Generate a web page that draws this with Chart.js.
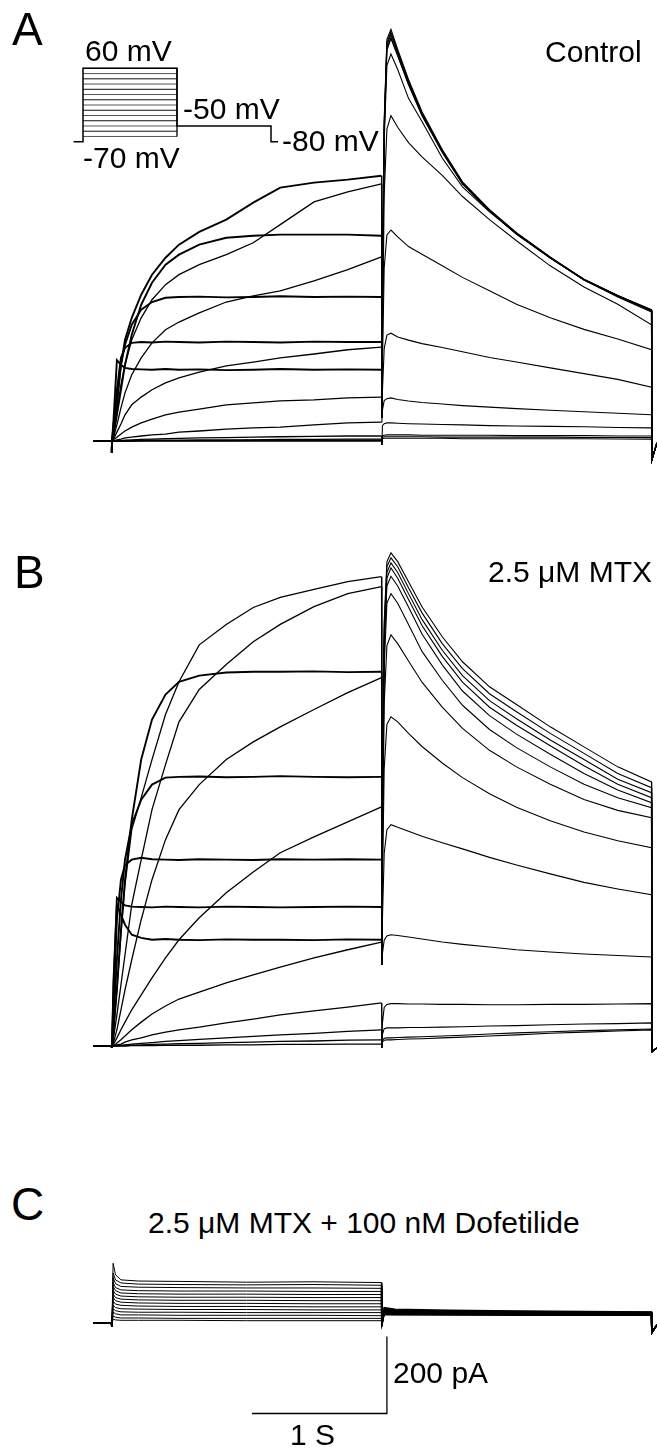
<!DOCTYPE html>
<html>
<head>
<meta charset="utf-8">
<title>hERG tail currents</title>
<script src="https://cdn.jsdelivr.net/npm/chart.js@4.4.0/dist/chart.umd.min.js"></script>
<style>
  html, body { margin: 0; padding: 0; background: #fff; }
  #page { position: relative; width: 657px; height: 1453px; overflow: hidden;
          font-family: "Liberation Sans", Arial, sans-serif; color: #000; }
  #page canvas { position: absolute; left: 0; }
  .lbl { position: absolute; font-size: 30px; line-height: 1; white-space: nowrap; }
  .panel { font-size: 46px; }
</style>
</head>
<body>
<div id="page">
  <canvas id="chartA" width="657" height="480" style="top:0px"></canvas>
  <canvas id="chartB" width="657" height="580" style="top:500px"></canvas>
  <canvas id="chartC" width="657" height="213" style="top:1240px"></canvas>

  <div class="lbl panel" style="left:12px; top:6px">A</div>
  <div class="lbl" style="left:85px; top:36px">60 mV</div>
  <div class="lbl" style="left:183px; top:94px">-50 mV</div>
  <div class="lbl" style="left:282px; top:126px">-80 mV</div>
  <div class="lbl" style="left:83px; top:143px">-70 mV</div>
  <div class="lbl" style="left:545px; top:37px">Control</div>

  <div class="lbl panel" style="left:14px; top:549px">B</div>
  <div class="lbl" style="left:488px; top:557px">2.5 μM MTX</div>

  <div class="lbl panel" style="left:11px; top:1181px">C</div>
  <div class="lbl" style="left:148px; top:1208px">2.5 μM MTX + 100 nM Dofetilide</div>
  <div class="lbl" style="left:393px; top:1358px">200 pA</div>
  <div class="lbl" style="left:290px; top:1420px">1 S</div>
</div>

<script>
// --- Data (time in s from start of the test pulse, current in pA) ---
const voltages = [60, 50, 40, 30, 20, 10, 0, -10, -20, -30, -40, -50, -60, -70];

const stepTimes = [0.004, 0.015, 0.04, 0.07, 0.1, 0.15, 0.22, 0.3, 0.4, 0.5, 0.65, 0.85, 1.05, 1.25, 1.5, 1.75, 2.0];
const dipTime = 2.003;
const tailTimes = [2.007, 2.02, 2.04, 2.07, 2.12, 2.2, 2.3, 2.45, 2.6, 2.8, 3.0, 3.25, 3.5, 3.75, 4.0];

// A: control
const ctrlStep = [
  [0, 55, 210, 198, 190, 187, 186, 185, 187, 185, 186, 184, 185, 187, 185, 186, 185],
  [0, 42, 133, 216, 242, 255, 257, 256, 258, 257, 256, 258, 257, 256, 258, 257, 257],
  [0, 29, 107, 198, 250, 302, 341, 361, 372, 374, 375, 373, 374, 376, 374, 375, 374],
  [0, 16, 68, 133, 198, 276, 354, 411, 458, 484, 510, 528, 533, 536, 536, 536, 533],
  [0, 23, 94, 198, 263, 320, 380, 432, 476, 510, 543, 575, 619, 658, 671, 679, 689],
  [0, 18, 75, 146, 198, 263, 320, 367, 406, 432, 458, 484, 515, 562, 621, 647, 668],
  [0, 10, 42, 86, 125, 172, 216, 255, 289, 309, 333, 361, 377, 390, 416, 445, 478],
  [0, 5, 23, 44, 68, 94, 114, 133, 151, 164, 179, 195, 205, 216, 226, 237, 244],
  [0, 3, 10, 18, 26, 36, 47, 57, 68, 75, 83, 94, 99, 104, 107, 112, 114],
  [0, 0, 3, 5, 8, 10, 13, 16, 18, 23, 26, 31, 34, 36, 42, 47, 49],
  [0, 0, 0, 1, 2, 3, 4, 5, 6, 7, 8, 9, 10, 11, 12, 13, 13],
  [0, 0, 0, 0, 1, 1, 1, 2, 2, 2, 3, 3, 3, 4, 4, 5, 5],
  [0, 0, 0, 0, 0, 0, 1, 1, 1, 1, 1, 1, 2, 2, 2, 2, 2],
  [0, 0, 0, 0, 0, 0, 0, 0, 0, 0, 0, 0, 0, 0, 0, 0, 0]
];
const ctrlDip = [60, 60, 60, 60, 60, 60, 60, 60, 60, 55, -10, -10, -10, -10];
const ctrlTail = [
  [367, 835, 1043, 1069, 1017, 939, 855, 757, 673, 601, 541, 478, 419, 377, 338],
  [360, 825, 1035, 1062, 1012, 935, 852, 755, 671, 600, 540, 477, 420, 378, 340],
  [350, 815, 1028, 1056, 1008, 932, 850, 753, 670, 598, 538, 476, 418, 376, 337],
  [345, 805, 1020, 1048, 1003, 928, 847, 750, 668, 597, 537, 475, 419, 377, 339],
  [340, 800, 1015, 1045, 1000, 925, 845, 750, 668, 598, 539, 477, 420, 378, 341],
  [330, 780, 975, 1005, 965, 890, 830, 735, 660, 595, 538, 475, 418, 374, 335],
  [250, 640, 810, 845, 815, 775, 738, 690, 635, 575, 520, 455, 400, 355, 302],
  [200, 450, 535, 548, 530, 505, 485, 455, 425, 390, 355, 320, 290, 265, 237],
  [130, 240, 275, 280, 270, 262, 253, 243, 232, 217, 205, 190, 175, 160, 140],
  [80, 105, 110, 112, 108, 104, 100, 96, 92, 88, 84, 80, 76, 72, 68],
  [40, 45, 47, 47, 46, 45, 44, 43, 42, 40, 39, 38, 37, 35, 34],
  [14, 15, 16, 16, 16, 16, 15, 15, 15, 15, 14, 14, 14, 13, 13],
  [10, 11, 11, 11, 11, 11, 11, 10, 10, 10, 10, 10, 9, 9, 9],
  [6, 7, 7, 7, 7, 7, 7, 7, 6, 6, 6, 6, 6, 5, 5]
];

// B: 2.5 uM MTX
const mtxStep = [
  [0, 172, 367, 341, 315, 289, 281, 276, 278, 276, 275, 277, 276, 276, 275, 277, 276],
  [0, 150, 385, 375, 365, 362, 361, 360, 362, 361, 360, 362, 361, 360, 361, 362, 361],
  [0, 120, 328, 432, 470, 484, 489, 485, 484, 483, 485, 484, 483, 485, 484, 485, 484],
  [0, 68, 224, 380, 484, 575, 640, 679, 697, 699, 700, 698, 699, 701, 699, 698, 699],
  [0, 42, 146, 302, 432, 588, 744, 848, 913, 946, 962, 970, 972, 972, 973, 971, 972],
  [0, 42, 146, 289, 419, 562, 645, 744, 861, 946, 1042, 1095, 1139, 1165, 1186, 1206, 1219],
  [0, 21, 81, 159, 237, 367, 484, 614, 731, 842, 926, 991, 1050, 1095, 1141, 1175, 1193],
  [0, 10, 42, 94, 146, 224, 328, 432, 536, 614, 679, 744, 790, 829, 874, 918, 957],
  [0, 5, 21, 42, 62, 94, 133, 177, 229, 276, 333, 398, 452, 502, 543, 582, 621],
  [0, 0, 8, 16, 26, 42, 62, 83, 104, 122, 140, 164, 185, 205, 229, 250, 270],
  [0, 0, 3, 5, 10, 16, 21, 29, 36, 42, 49, 60, 70, 81, 91, 101, 112],
  [0, 0, 1, 2, 3, 5, 7, 9, 12, 14, 17, 21, 25, 29, 33, 38, 42],
  [0, 0, 0, 1, 1, 2, 3, 4, 5, 6, 7, 9, 10, 12, 13, 15, 16],
  [0, 0, 0, 0, 0, 1, 1, 1, 2, 2, 2, 3, 3, 4, 4, 5, 5]
];
const mtxDip = [211, 211, 211, 211, 211, 211, 211, 211, 211, 211, -5, -5, -5, -5];
const mtxTail = [
  [640, 1102, 1258, 1281, 1258, 1206, 1141, 1063, 998, 933, 887, 829, 777, 725, 686],
  [620, 1085, 1245, 1268, 1245, 1190, 1125, 1045, 980, 915, 868, 812, 760, 708, 671],
  [600, 1068, 1230, 1255, 1230, 1175, 1108, 1028, 962, 897, 850, 795, 744, 693, 658],
  [580, 1050, 1215, 1242, 1215, 1160, 1092, 1012, 945, 880, 833, 780, 728, 680, 645],
  [560, 1030, 1195, 1220, 1195, 1140, 1070, 990, 922, 858, 810, 758, 708, 665, 632],
  [540, 985, 1150, 1175, 1150, 1095, 1025, 950, 885, 822, 775, 725, 680, 645, 619],
  [480, 890, 1040, 1068, 1045, 1000, 945, 880, 825, 768, 725, 680, 640, 612, 593],
  [420, 720, 835, 855, 842, 812, 778, 735, 697, 655, 620, 585, 556, 533, 515],
  [330, 500, 562, 575, 568, 558, 545, 528, 512, 490, 470, 447, 425, 408, 393],
  [240, 275, 286, 289, 287, 283, 278, 270, 264, 257, 250, 244, 239, 235, 231],
  [60, 100, 108, 110, 110, 109, 109, 108, 108, 107, 107, 108, 108, 109, 110],
  [30, 45, 47, 47, 47, 48, 48, 49, 50, 52, 53, 55, 57, 58, 60],
  [15, 20, 21, 21, 22, 23, 24, 26, 28, 31, 34, 37, 40, 42, 44],
  [10, 15, 16, 16, 17, 18, 19, 21, 23, 26, 29, 33, 36, 39, 42]
];

// C: 2.5 uM MTX + 100 nM dofetilide
const dofStepTimes = [0.004, 0.012, 0.03, 0.07, 0.2, 0.5, 1.0, 1.5, 2.0];
const dofTailTimes = [2.003, 2.02, 2.1, 2.5, 3.0, 3.5, 4.0];
const dofStep = [
  [0, 155, 125, 112, 109, 108, 106, 107, 105],
  [0, 130, 112, 104, 101, 100, 99, 100, 98],
  [0, 118, 102, 95, 93, 92, 91, 91, 90],
  [0, 105, 92, 86, 84, 83, 83, 82, 82],
  [0, 95, 84, 78, 76, 75, 75, 74, 74],
  [0, 85, 75, 70, 68, 67, 67, 66, 66],
  [0, 75, 66, 62, 60, 59, 59, 58, 58],
  [0, 66, 58, 54, 52, 51, 51, 50, 50],
  [0, 56, 49, 46, 44, 43, 43, 42, 42],
  [0, 46, 40, 37, 36, 35, 35, 34, 34],
  [0, 37, 32, 29, 28, 28, 27, 27, 27],
  [0, 28, 24, 21, 21, 20, 20, 20, 19],
  [0, 18, 15, 13, 13, 12, 12, 12, 12],
  [0, 10, 8, 7, 7, 7, 6, 6, 6]
];
const dofTail = [
  [-10, 40, 36, 33, 31, 30, 29],
  [-8, 38, 34, 31, 30, 29, 28],
  [-6, 36, 33, 30, 29, 28, 27],
  [-5, 34, 31, 29, 28, 27, 27],
  [-4, 33, 30, 28, 27, 26, 26],
  [-3, 31, 29, 27, 26, 25, 25],
  [-2, 30, 28, 26, 25, 25, 24],
  [-1, 28, 27, 25, 24, 24, 24],
  [0, 27, 26, 24, 24, 23, 23],
  [0, 26, 25, 24, 23, 23, 22],
  [0, 25, 24, 23, 22, 22, 22],
  [0, 24, 23, 22, 22, 21, 21],
  [0, 23, 22, 21, 21, 21, 20],
  [0, 22, 21, 21, 20, 20, 20]
];

// scale bar (s, pA)
const scaleBarT = [1.04, 2.04, 2.04];
const scaleBarI = [-235, -235, -35];

// voltage protocol inset (s, mV)
const protoT = [-0.2, 0, 0, 2, 2, 4, 4, 4.15];
const protoV = [-80, -80, 60, 60, -50, -50, -80, -80];
const protoLevels = [60, 50, 40, 30, 20, 10, 0, -10, -20, -30, -40, -50, -60, -70];

// --- Layout ---
const W = 657;
const STEP_X = 111.5;          // pixel where the test pulse starts
const PX_PER_S = 135;
const PX_PER_PA = 77 / 200;
const xMin = -STEP_X / PX_PER_S;
const xMax = (W - STEP_X) / PX_PER_S;

function yRange(canvasH, baseY) {
  return { min: -(canvasH - baseY) / PX_PER_PA, max: baseY / PX_PER_PA };
}

function line(points, width, color) {
  return { data: points, borderColor: color || '#000', borderWidth: width || 1.1,
           pointRadius: 0, fill: false, tension: 0 };
}

// noisy parts of the recording look heavier: thicker line on the test pulse
function trace(points, stepW, tailW) {
  const ds = line(points, tailW);
  ds.segment = { borderWidth: ctx => (ctx.p1.parsed.x <= 2.0 && ctx.p0.parsed.x > 0 ? stepW : tailW) };
  return ds;
}

function buildTrace(times, row, dip, tTimes, tail, startDip, endDrop) {
  const pts = [{ x: -0.135, y: 0 }, { x: 0, y: 0 }, { x: 0.002, y: startDip }];
  times.forEach((t, i) => pts.push({ x: t, y: row[i] }));
  if (dip !== null) pts.push({ x: dipTime, y: dip });
  tTimes.forEach((t, i) => pts.push({ x: t, y: tail[i] }));
  pts.push({ x: 4.002, y: endDrop }, { x: 4.04, y: -5 });
  return pts;
}

function makeChart(id, datasets, yr, extraScales) {
  return new Chart(document.getElementById(id), {
    type: 'line',
    data: { datasets },
    options: {
      responsive: false,
      animation: false,
      events: [],
      layout: { padding: 0 },
      plugins: { legend: { display: false }, tooltip: { enabled: false } },
      scales: Object.assign({
        x: { type: 'linear', min: xMin, max: xMax, display: false },
        y: { type: 'linear', min: yr.min, max: yr.max, display: false }
      }, extraScales || {})
    }
  });
}

// --- Panel A ---
const dsA = voltages.map((v, i) =>
  trace(buildTrace(stepTimes, ctrlStep[i], ctrlDip[i], tailTimes, ctrlTail[i], -30, -50),
        v >= 20 ? 1.9 : 1.3, 1.1));
dsA[0].borderWidth = 1.6;   // saturated tails overlap into a heavy edge

// protocol drawn on its own pair of scales (47 px/s, 0.524 px/mV, -80 mV at y=141.7)
const pScales = {
  px: { type: 'linear', min: -83 / 47, max: (W - 83) / 47, display: false },
  pv: { type: 'linear', min: -80 - (480 - 141.7) / 0.524, max: -80 + 141.7 / 0.524, display: false }
};
function protoLine(points, width, color) {
  return Object.assign(line(points, width, color), { xAxisID: 'px', yAxisID: 'pv' });
}
dsA.push(protoLine(protoT.map((t, i) => ({ x: t, y: protoV[i] })), 1.5));
dsA.push(protoLine([{ x: 2, y: 60 }, { x: 2, y: -70 }], 1.3));
protoLevels.forEach((v, i) => {
  dsA.push(protoLine([{ x: 0, y: v }, { x: 2, y: v }], 1, i % 2 ? '#555' : '#111'));
});
makeChart('chartA', dsA, yRange(480, 441), pScales);

// --- Panel B ---
const dsB = voltages.map((v, i) =>
  trace(buildTrace(stepTimes, mtxStep[i], mtxDip[i], tailTimes, mtxTail[i], -5, -15),
        v >= 20 ? 1.9 : 1.3, 1.1));
makeChart('chartB', dsB, yRange(580, 546));

// --- Panel C ---
const dsC = voltages.map((v, i) =>
  trace(buildTrace(dofStepTimes, dofStep[i], null, dofTailTimes, dofTail[i], -10, -25), 1.0, 1.4));
dsC.push(line(scaleBarT.map((t, i) => ({ x: t, y: scaleBarI[i] })), 1.3));
makeChart('chartC', dsC, yRange(213, 83));
</script>
</body>
</html>
